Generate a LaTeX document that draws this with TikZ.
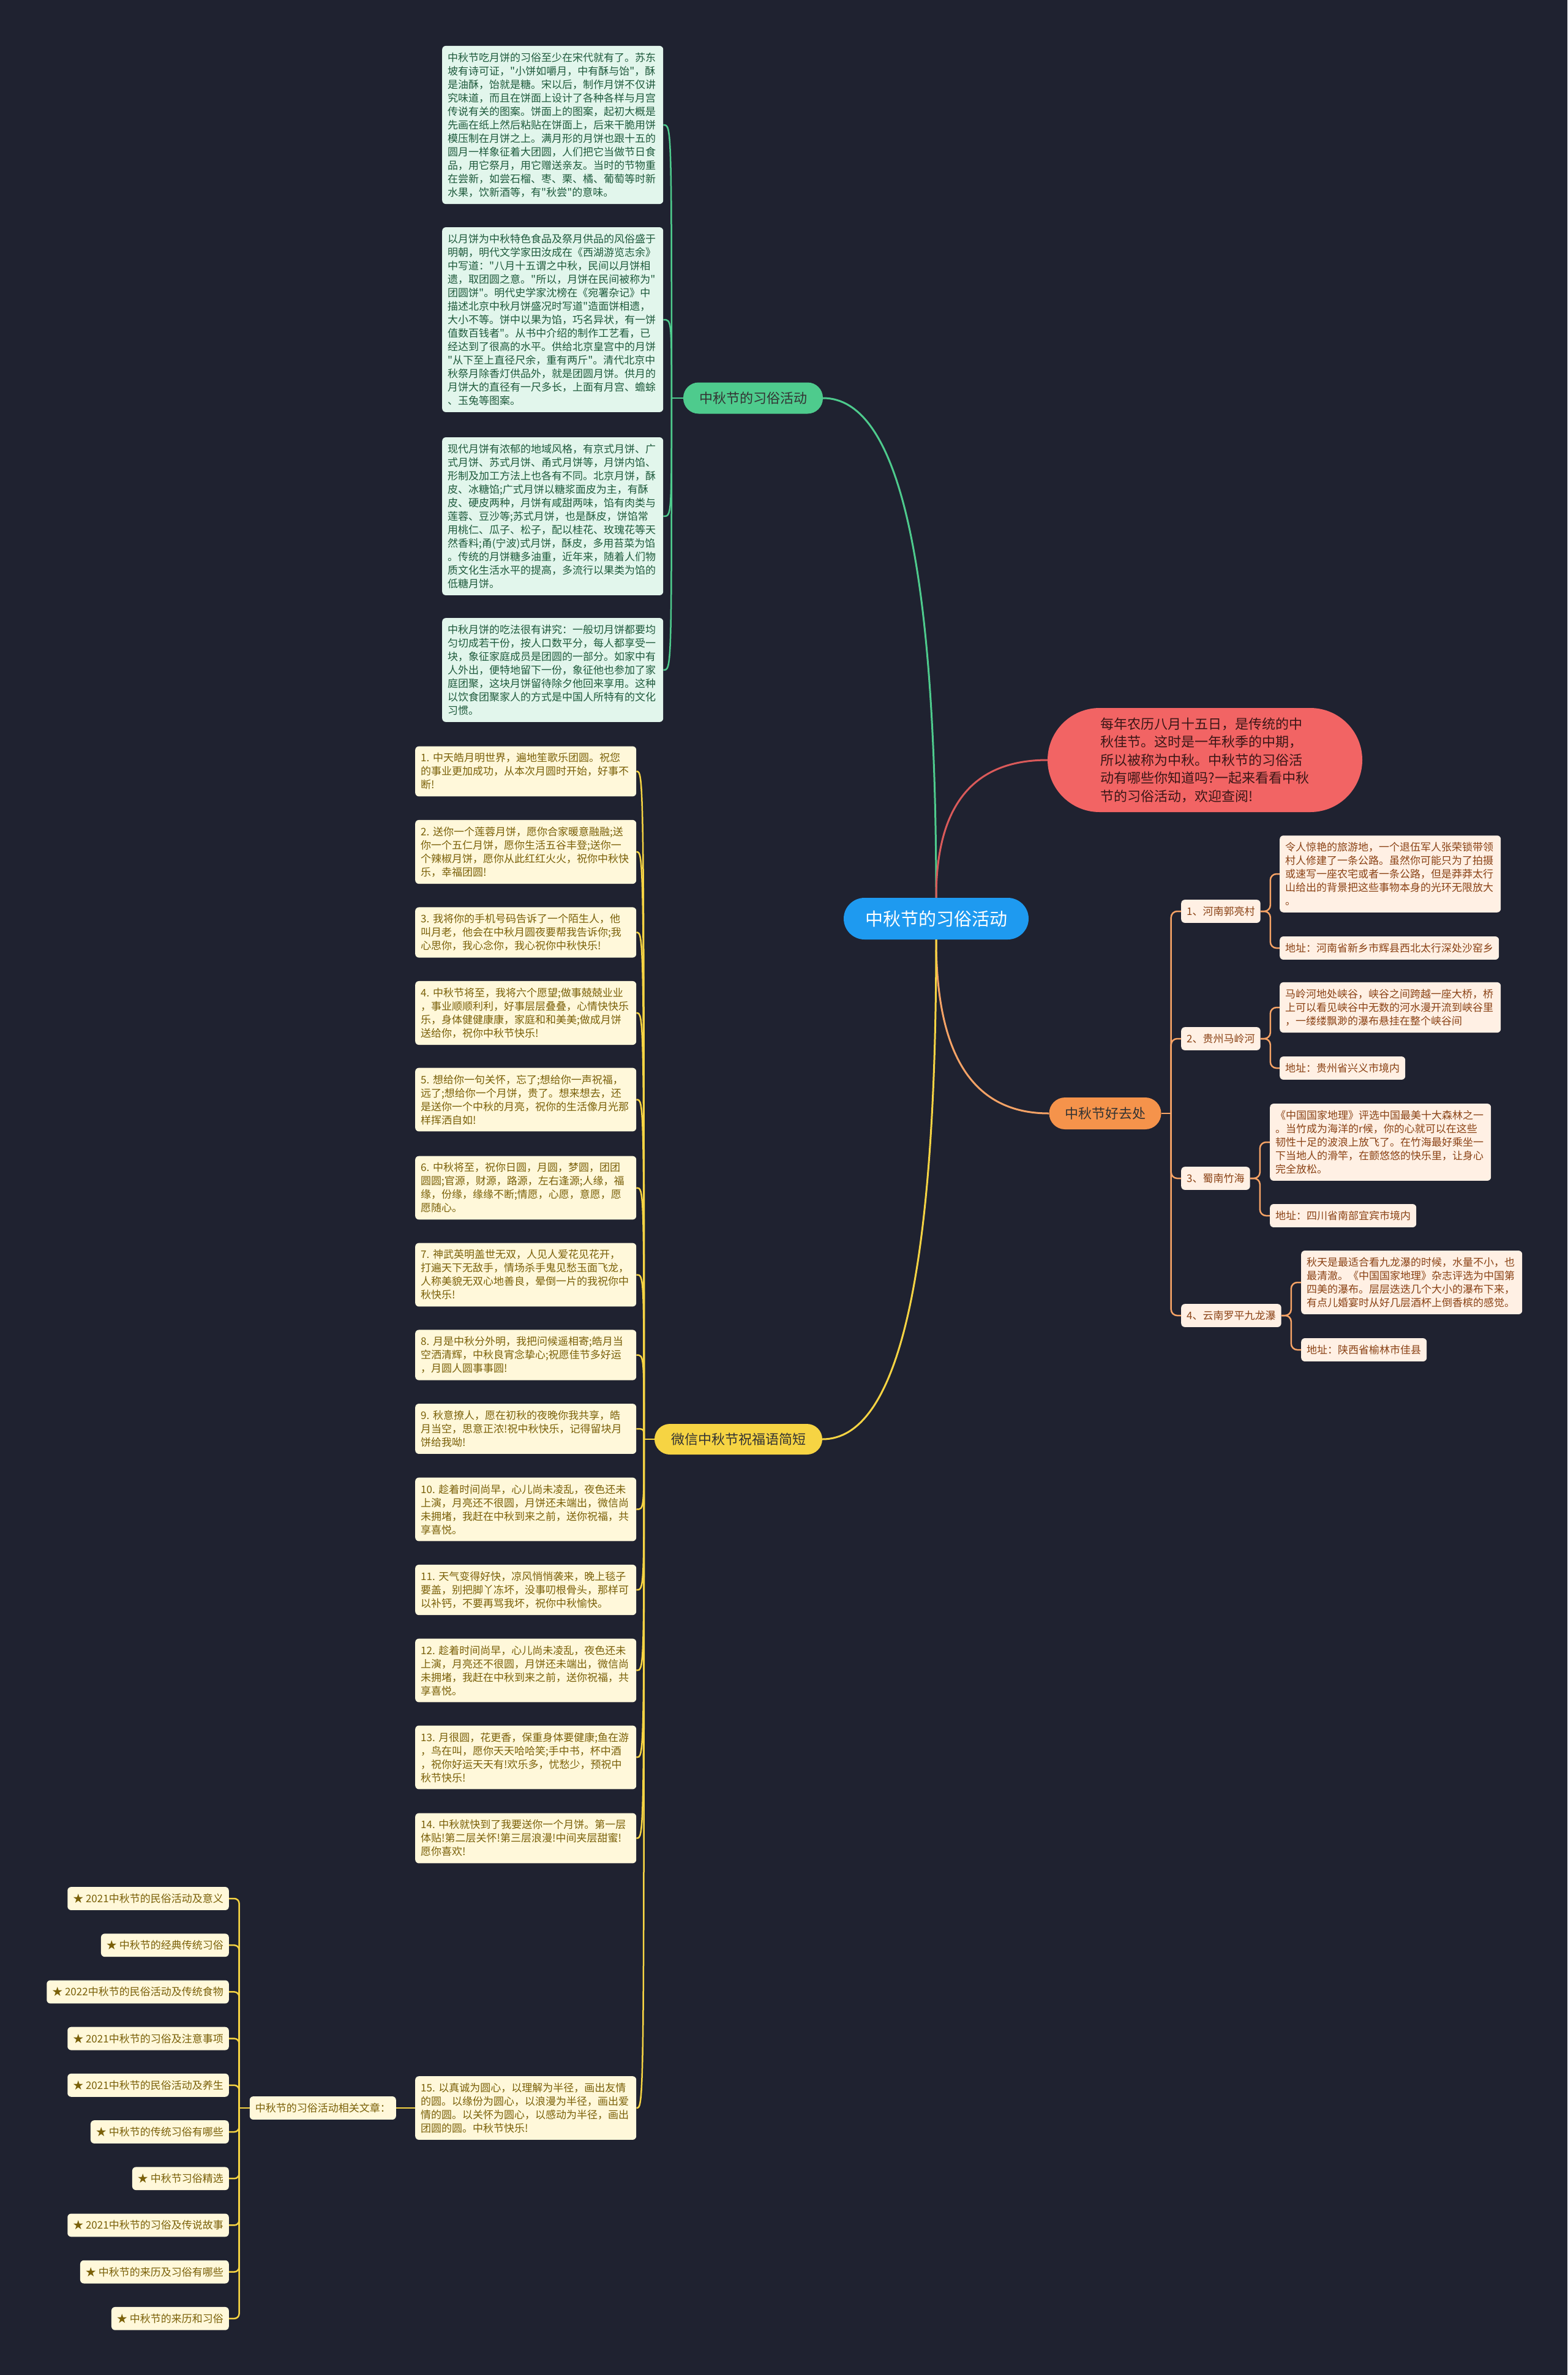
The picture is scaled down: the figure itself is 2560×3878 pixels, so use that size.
\documentclass[tikz,border=0pt]{standalone}
\usepackage{fontspec}
\newfontfamily\cjk{Noto Sans CJK SC}
\usepackage{xcolor}
\usepackage{tikz}
\usetikzlibrary{calc}

\definecolor{bgnavy}{HTML}{1F2230}
\definecolor{rootblue}{HTML}{1E9AF0}
\definecolor{mintgreen}{HTML}{4ECB8D}
\definecolor{mintpale}{HTML}{E2F6EC}
\definecolor{mintink}{HTML}{1E5A3C}
\definecolor{coral}{HTML}{F26464}
\definecolor{coralink}{HTML}{3A1616}
\definecolor{tangerine}{HTML}{F5934B}
\definecolor{peachpale}{HTML}{FFF0E4}
\definecolor{peachink}{HTML}{8A4215}
\definecolor{lemon}{HTML}{F6D443}
\definecolor{creampale}{HTML}{FFF8DA}
\definecolor{oliveink}{HTML}{7A6008}

\begin{document}
\begin{tikzpicture}[x=1pt, y=-1pt,
  box/.style={rounded corners=6pt, inner xsep=9pt, inner ysep=11pt, align=left,
    font=\cjk\fontsize{17}{22}\selectfont},
  leaf/.style={box, text width=343pt, anchor=west},
  gleaf/.style={leaf, fill=mintpale, text=mintink},
  wleaf/.style={leaf, fill=creampale, text=oliveink},
  tleaf/.style={leaf, fill=peachpale, text=peachink},
  ttag/.style={box, fill=peachpale, text=peachink, anchor=west},
  wtag/.style={box, fill=creampale, text=oliveink, anchor=east},
  topic/.style={inner sep=0pt, text=black!80, font=\cjk\fontsize{22}{26}\selectfont},
  gline/.style={draw=mintgreen, line width=2.5pt},
  wline/.style={draw=lemon, line width=2.5pt},
  tline/.style={draw=tangerine!85!white, line width=2.5pt},
  rline/.style={draw=coral!90!black, line width=2.5pt}]
\fill[bgnavy] (0,0) rectangle (2560,3878);
\useasboundingbox (0,0) rectangle (2560,3878);

\node[fill=rootblue, text=white, rounded corners=34pt, minimum width=302pt, minimum height=68pt,
  inner sep=0pt, font=\cjk\fontsize{29}{34}\selectfont] (root) at (1529,1500) {中秋节的习俗活动};

\node[topic, fill=mintgreen, rounded corners=25pt, minimum width=228pt, minimum height=51pt] (habit) at (1230,650) {中秋节的习俗活动};
\node[topic, fill=lemon, rounded corners=25pt, minimum width=274pt, minimum height=50pt] (wish) at (1206,2350) {微信中秋节祝福语简短};
\node[topic, fill=tangerine, rounded corners=26pt, minimum width=183pt, minimum height=52pt] (trip) at (1805,1818) {中秋节好去处};
\node[fill=coral, text=coralink, rounded corners=85pt, minimum width=514pt, minimum height=170pt, align=left,
  font=\cjk\fontsize{22}{29.5}\selectfont] (intro) at (1968,1241)
  {每年农历八月十五日，是传统的中\\秋佳节。这时是一年秋季的中期，\\所以被称为中秋。中秋节的习俗活\\动有哪些你知道吗?一起来看看中秋\\节的习俗活动，欢迎查阅!};

\coordinate (gc) at (root.north |- habit.east);
\coordinate (rc) at (root.north |- intro.west);
\coordinate (tc) at (root.south |- trip.west);
\coordinate (wc) at (root.south |- wish.east);
\draw[gline, line width=3pt] (root.north) .. controls ($(root.north)!.67!(gc)$) and ($(habit.east)!.67!(gc)$) .. (habit.east);
\draw[rline, line width=3pt] (root.north) .. controls ($(root.north)!.67!(rc)$) and ($(intro.west)!.67!(rc)$) .. (intro.west);
\draw[tline, line width=3pt] (root.south) .. controls ($(root.south)!.67!(tc)$) and ($(trip.west)!.67!(tc)$) .. (trip.west);
\draw[wline, line width=3pt] (root.south) .. controls ($(root.south)!.67!(wc)$) and ($(wish.east)!.67!(wc)$) .. (wish.east);

\node[gleaf] (h1) at (722,204) {中秋节吃月饼的习俗至少在宋代就有了。苏东\\坡有诗可证，"小饼如嚼月，中有酥与饴"，酥\\是油酥，饴就是糖。宋以后，制作月饼不仅讲\\究味道，而且在饼面上设计了各种各样与月宫\\传说有关的图案。饼面上的图案，起初大概是\\先画在纸上然后粘贴在饼面上，后来干脆用饼\\模压制在月饼之上。满月形的月饼也跟十五的\\圆月一样象征着大团圆，人们把它当做节日食\\品，用它祭月，用它赠送亲友。当时的节物重\\在尝新，如尝石榴、枣、栗、橘、葡萄等时新\\水果，饮新酒等，有"秋尝"的意味。};
\node[gleaf] (h2) at (722,522) {以月饼为中秋特色食品及祭月供品的风俗盛于\\明朝，明代文学家田汝成在《西湖游览志余》\\中写道："八月十五谓之中秋，民间以月饼相\\遗，取团圆之意。"所以，月饼在民间被称为"\\团圆饼"。明代史学家沈榜在《宛署杂记》中\\描述北京中秋月饼盛况时写道"造面饼相遗，\\大小不等。饼中以果为馅，巧名异状，有一饼\\值数百钱者"。从书中介绍的制作工艺看，已\\经达到了很高的水平。供给北京皇宫中的月饼\\"从下至上直径尺余，重有两斤"。清代北京中\\秋祭月除香灯供品外，就是团圆月饼。供月的\\月饼大的直径有一尺多长，上面有月宫、蟾蜍\\、玉兔等图案。};
\node[gleaf] (h3) at (722,843) {现代月饼有浓郁的地域风格，有京式月饼、广\\式月饼、苏式月饼、甬式月饼等，月饼内馅、\\形制及加工方法上也各有不同。北京月饼，酥\\皮、冰糖馅;广式月饼以糖浆面皮为主，有酥\\皮、硬皮两种，月饼有咸甜两味，馅有肉类与\\莲蓉、豆沙等;苏式月饼，也是酥皮，饼馅常\\用桃仁、瓜子、松子，配以桂花、玫瑰花等天\\然香料;甬(宁波)式月饼，酥皮，多用苔菜为馅\\。传统的月饼糖多油重，近年来，随着人们物\\质文化生活水平的提高，多流行以果类为馅的\\低糖月饼。};
\node[gleaf] (h4) at (722,1094) {中秋月饼的吃法很有讲究：一般切月饼都要均\\匀切成若干份，按人口数平分，每人都享受一\\块，象征家庭成员是团圆的一部分。如家中有\\人外出，便特地留下一份，象征他也参加了家\\庭团聚，这块月饼留待除夕他回来享用。这种\\以饮食团聚家人的方式是中国人所特有的文化\\习惯。};
\draw[gline] (habit.west) -- ++(-19,0) coordinate (gt);
\foreach \i in {1,...,4}
  \draw[gline] (gt) .. controls (gt |- h\i.east) .. (h\i.east);

\node[ttag] (t1) at (1929,1488) {1、河南郭亮村};
\node[ttag] (t2) at (1929,1696) {2、贵州马岭河};
\node[ttag] (t3) at (1929,1924) {3、蜀南竹海};
\node[ttag] (t4) at (1929,2148) {4、云南罗平九龙瀑};
\node[tleaf] (ta1) at (2090,1427) {令人惊艳的旅游地，一个退伍军人张荣锁带领\\村人修建了一条公路。虽然你可能只为了拍摄\\或速写一座农宅或者一条公路，但是莽莽太行\\山给出的背景把这些事物本身的光环无限放大\\。};
\node[ttag] (tb1) at (2090,1548) {地址：河南省新乡市辉县西北太行深处沙窑乡};
\node[tleaf] (ta2) at (2090,1645) {马岭河地处峡谷，峡谷之间跨越一座大桥，桥\\上可以看见峡谷中无数的河水漫开流到峡谷里\\，一缕缕飘渺的瀑布悬挂在整个峡谷间};
\node[ttag] (tb2) at (2090,1744) {地址：贵州省兴义市境内};
\node[tleaf] (ta3) at (2074,1865) {《中国国家地理》评选中国最美十大森林之一\\。当竹成为海洋的r候，你的心就可以在这些\\韧性十足的波浪上放飞了。在竹海最好乘坐一\\下当地人的滑竿，在颤悠悠的快乐里，让身心\\完全放松。};
\node[ttag] (tb3) at (2074,1985) {地址：四川省南部宜宾市境内};
\node[tleaf] (ta4) at (2125,2094) {秋天是最适合看九龙瀑的时候，水量不小，也\\最清澈。《中国国家地理》杂志评选为中国第\\四美的瀑布。层层迭迭几个大小的瀑布下来，\\有点儿婚宴时从好几层酒杯上倒香槟的感觉。};
\node[ttag] (tb4) at (2125,2204) {地址：陕西省榆林市佳县};
\draw[tline] (trip.east) -- ++(16,0) coordinate (tt);
\foreach \i in {1,...,4} {
  \draw[tline, rounded corners=10pt] (tt) |- (t\i.west);
  \draw[tline, rounded corners=10pt] (t\i.east) -- ++(16,0) |- (ta\i.west);
  \draw[tline, rounded corners=10pt] (t\i.east) -- ++(16,0) |- (tb\i.west);
}

\node[wleaf] (w1) at (678,1259.5) {1.~中天皓月明世界，遍地笙歌乐团圆。祝您\\的事业更加成功，从本次月圆时开始，好事不\\断!};
\node[wleaf] (w2) at (678,1391) {2.~送你一个莲蓉月饼，愿你合家暖意融融;送\\你一个五仁月饼，愿你生活五谷丰登;送你一\\个辣椒月饼，愿你从此红红火火，祝你中秋快\\乐，幸福团圆!};
\node[wleaf] (w3) at (678,1522.5) {3.~我将你的手机号码告诉了一个陌生人，他\\叫月老，他会在中秋月圆夜要帮我告诉你;我\\心思你，我心念你，我心祝你中秋快乐!};
\node[wleaf] (w4) at (678,1654) {4.~中秋节将至，我将六个愿望;做事兢兢业业\\，事业顺顺利利，好事层层叠叠，心情快快乐\\乐，身体健健康康，家庭和和美美;做成月饼\\送给你，祝你中秋节快乐!};
\node[wleaf] (w5) at (678,1795.5) {5.~想给你一句关怀，忘了;想给你一声祝福，\\远了;想给你一个月饼，贵了。想来想去，还\\是送你一个中秋的月亮，祝你的生活像月光那\\样挥洒自如!};
\node[wleaf] (w6) at (678,1939.5) {6.~中秋将至，祝你日圆，月圆，梦圆，团团\\圆圆;官源，财源，路源，左右逢源;人缘，福\\缘，份缘，缘缘不断;情愿，心愿，意愿，愿\\愿随心。};
\node[wleaf] (w7) at (678,2081.5) {7.~神武英明盖世无双，人见人爱花见花开，\\打遍天下无敌手，情场杀手鬼见愁玉面飞龙，\\人称美貌无双心地善良，晕倒一片的我祝你中\\秋快乐!};
\node[wleaf] (w8) at (678,2212.5) {8.~月是中秋分外明，我把问候遥相寄;皓月当\\空洒清辉，中秋良宵念挚心;祝愿佳节多好运\\，月圆人圆事事圆!};
\node[wleaf] (w9) at (678,2333) {9.~秋意撩人，愿在初秋的夜晚你我共享，皓\\月当空，思意正浓!祝中秋快乐，记得留块月\\饼给我呦!};
\node[wleaf] (w10) at (678,2464.5) {10.~趁着时间尚早，心儿尚未凌乱，夜色还未\\上演，月亮还不很圆，月饼还未端出，微信尚\\未拥堵，我赶在中秋到来之前，送你祝福，共\\享喜悦。};
\node[wleaf] (w11) at (678,2596) {11.~天气变得好快，凉风悄悄袭来，晚上毯子\\要盖，别把脚丫冻坏，没事叨根骨头，那样可\\以补钙，不要再骂我坏，祝你中秋愉快。};
\node[wleaf] (w12) at (678,2727.5) {12.~趁着时间尚早，心儿尚未凌乱，夜色还未\\上演，月亮还不很圆，月饼还未端出，微信尚\\未拥堵，我赶在中秋到来之前，送你祝福，共\\享喜悦。};
\node[wleaf] (w13) at (678,2869.5) {13.~月很圆，花更香，保重身体要健康;鱼在游\\，鸟在叫，愿你天天哈哈笑;手中书，杯中酒\\，祝你好运天天有!欢乐多，忧愁少，预祝中\\秋节快乐!};
\node[wleaf] (w14) at (678,3001.5) {14.~中秋就快到了我要送你一个月饼。第一层\\体贴!第二层关怀!第三层浪漫!中间夹层甜蜜!\\愿你喜欢!};
\node[wleaf] (w15) at (678,3442) {15.~以真诚为圆心，以理解为半径，画出友情\\的圆。以缘份为圆心，以浪漫为半径，画出爱\\情的圆。以关怀为圆心，以感动为半径，画出\\团圆的圆。中秋节快乐!};
\draw[wline] (wish.west) -- ++(-17,0) coordinate (wt);
\foreach \i in {1,...,15}
  \draw[wline] (wt) .. controls (wt |- w\i.east) .. (w\i.east);

\node[wtag] (more) at (647,3442) {中秋节的习俗活动相关文章：};
\draw[wline] (w15.west) -- (more.east);
\draw[wline] (more.west) -- ++(-17,0) coordinate (mt);
\foreach \t [count=\i] in {2021中秋节的民俗活动及意义, 中秋节的经典传统习俗,
    2022中秋节的民俗活动及传统食物, 2021中秋节的习俗及注意事项,
    2021中秋节的民俗活动及养生, 中秋节的传统习俗有哪些, 中秋节习俗精选,
    2021中秋节的习俗及传说故事, 中秋节的来历及习俗有哪些, 中秋节的来历和习俗} {
  \node[wtag] (s\i) at (374,{3100+76.2*(\i-1)}) {★ \t};
  \draw[wline, rounded corners=8pt] (mt) |- (s\i.east);
}
\end{tikzpicture}
\end{document}
